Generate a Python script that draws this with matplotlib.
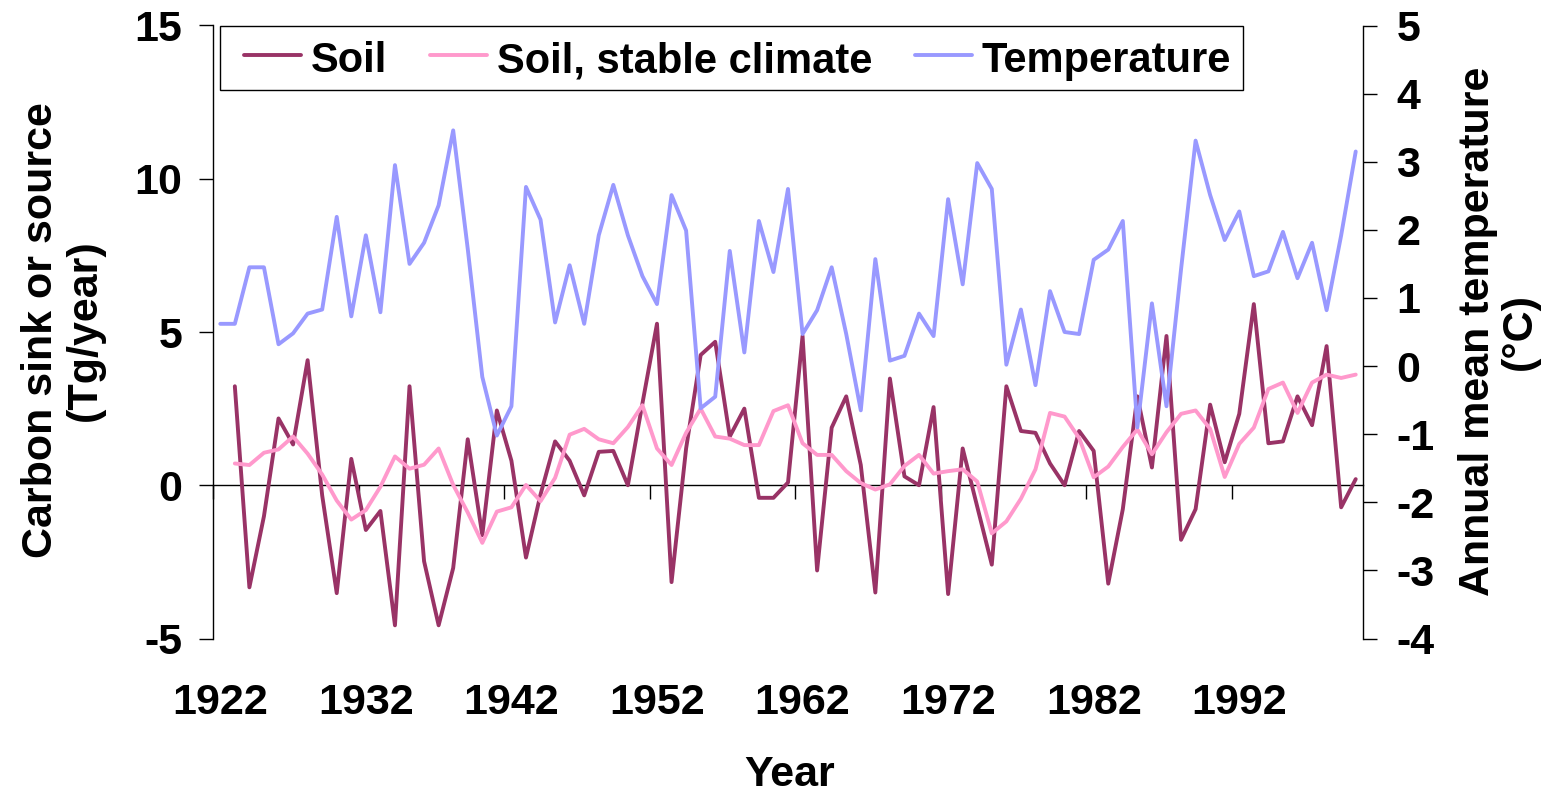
import matplotlib
matplotlib.use("Agg")
import matplotlib.pyplot as plt
from matplotlib.legend_handler import HandlerLine2D
import numpy as np

plt.rcParams['font.family'] = ['Liberation Sans', 'DejaVu Sans']
plt.rcParams['font.weight'] = 'bold'
plt.rcParams['axes.unicode_minus'] = False

# data, one value per year
years = list(range(1922, 2001))
soil_years = years[1:]

temperature = [0.62, 0.62, 1.45, 1.45, 0.32, 0.48, 0.77, 0.83, 2.19, 0.73,
               1.92, 0.79, 2.95, 1.50, 1.81, 2.36, 3.46, 1.72, -0.16, -1.02,
               -0.59, 2.63, 2.15, 0.64, 1.48, 0.62, 1.92, 2.66, 1.92, 1.32,
               0.91, 2.51, 1.99, -0.62, -0.45, 1.69, 0.20, 2.13, 1.38, 2.60,
               0.47, 0.82, 1.45, 0.47, -0.65, 1.57, 0.08, 0.15, 0.77, 0.44,
               2.45, 1.20, 2.98, 2.60, 0.02, 0.83, -0.28, 1.10, 0.50, 0.47,
               1.56, 1.71, 2.13, -0.90, 0.92, -0.59, 1.42, 3.31, 2.51, 1.85,
               2.27, 1.32, 1.39, 1.97, 1.29, 1.81, 0.82, 1.92, 3.15]

soil = [3.23, -3.33, -1.01, 2.18, 1.33, 4.08, -0.33, -3.52, 0.86, -1.46,
        -0.84, -4.57, 3.23, -2.48, -4.57, -2.70, 1.50, -1.63, 2.44, 0.80,
        -2.36, -0.30, 1.43, 0.80, -0.33, 1.09, 1.12, 0.00, 2.67, 5.27,
        -3.16, 1.20, 4.25, 4.68, 1.59, 2.50, -0.41, -0.41, 0.09, 4.87,
        -2.78, 1.88, 2.90, 0.66, -3.50, 3.48, 0.29, 0.00, 2.55, -3.55,
        1.20, -0.70, -2.59, 3.23, 1.77, 1.71, 0.71, 0.00, 1.77, 1.12,
        -3.21, -0.78, 2.90, 0.58, 4.87, -1.78, -0.78, 2.63, 0.75, 2.33,
        5.91, 1.37, 1.43, 2.90, 1.96, 4.54, -0.72, 0.20]

soil_stable = [0.71, 0.66, 1.06, 1.17, 1.59, 1.03, 0.35, -0.50, -1.12, -0.81,
               -0.05, 0.94, 0.54, 0.67, 1.20, 0.01, -0.89, -1.88, -0.86, -0.72,
               0.01, -0.52, 0.24, 1.65, 1.84, 1.50, 1.37, 1.90, 2.61, 1.20,
               0.66, 1.71, 2.50, 1.59, 1.52, 1.31, 1.31, 2.42, 2.61, 1.37,
               0.99, 0.99, 0.46, 0.07, -0.14, 0.03, 0.63, 0.99, 0.38, 0.46,
               0.52, 0.12, -1.57, -1.18, -0.44, 0.52, 2.36, 2.24, 1.54, 0.26,
               0.61, 1.25, 1.82, 1.01, 1.73, 2.33, 2.44, 1.84, 0.27, 1.35,
               1.88, 3.14, 3.35, 2.36, 3.35, 3.61, 3.50, 3.61]

label_years = list(range(1922, 1993, 10))
left_ticks = [-5, 0, 5, 10, 15]
right_ticks = list(range(-4, 6))

FS = 31
LEG_FS = 30


class InsetLine(HandlerLine2D):
    # legend line that leaves a gap on its left, like the Excel legend
    def get_xdata(self, legend, xdescent, ydescent, width, height, fontsize):
        gap = 0.293 * fontsize
        xdata = np.array([-xdescent + gap, -xdescent + width])
        return xdata, xdata


W, H = 1553, 794
fig = plt.figure(figsize=(W / 100, H / 100), dpi=100)
ax = fig.add_axes([213 / W, 1 - 638.5 / H, 1150 / W, 613 / H])

line_kw = dict(lw=2.8, solid_joinstyle='round', solid_capstyle='round')
l1, = ax.plot(soil_years, soil, color='#993366', label='Soil', **line_kw)
l2, = ax.plot(soil_years, soil_stable, color='#FF99CC',
              label='Soil, stable climate', **line_kw)

ax2 = ax.twinx()
l3, = ax2.plot(years, temperature, color='#9999FF', label='Temperature', **line_kw)

ax.set_xlim(1921.5, 2000.5)
ax.set_ylim(-5, 15)
ax2.set_ylim(-4, 5)

for a in (ax, ax2):
    a.spines['top'].set_visible(False)
    a.spines['bottom'].set_visible(False)
ax.spines['right'].set_visible(False)
ax2.spines['left'].set_visible(False)
ax.spines['left'].set_linewidth(1)
ax2.spines['right'].set_linewidth(1)

ax.set_yticks(left_ticks)
ax.tick_params(axis='y', direction='out', length=10, width=1, pad=12, labelsize=FS)
ax2.set_yticks(right_ticks)
ax2.tick_params(axis='y', direction='out', length=10, width=1, pad=14, labelsize=FS)

ax.set_xticks(label_years)
ax.set_xticklabels([str(y) for y in label_years])
ax.tick_params(axis='x', length=0, pad=32, labelsize=FS)

# zero line with tick marks between categories, Excel style
zero = ax.secondary_xaxis(0.25)
zero.set_xticks(np.arange(1921.5, 2000, 10))
zero.set_xticklabels([])
zero.tick_params(axis='x', direction='out', length=10, width=1)
zero.spines['bottom'].set_linewidth(1)

handles = [l1, l2, l3]
leg = ax2.legend(handles, [h.get_label() for h in handles],
                 handler_map={h: InsetLine() for h in handles},
                 loc='upper left', bbox_to_anchor=(0.0063, 0.9985), ncol=3,
                 fontsize=LEG_FS, frameon=True, fancybox=False, edgecolor='black',
                 framealpha=1, handlelength=1.66, handletextpad=0.225,
                 columnspacing=0.75, borderpad=0.28, borderaxespad=0)
leg.get_frame().set_linewidth(1)
for t in leg.get_texts():
    t.set_y(-3)

fig.text(63 / W, 1 - 330 / H, 'Carbon sink or source\n(Tg/year)', rotation=90,
         ha='center', va='center', fontsize=FS, linespacing=1.12)
fig.text(1499 / W, 1 - 331 / H, 'Annual mean temperature\n(°C)', rotation=90,
         ha='center', va='center', fontsize=FS, linespacing=1.08)
fig.text(790 / W, 1 - 775 / H, 'Year', ha='center', va='center', fontsize=FS)

fig.savefig('out.png', dpi=100)
